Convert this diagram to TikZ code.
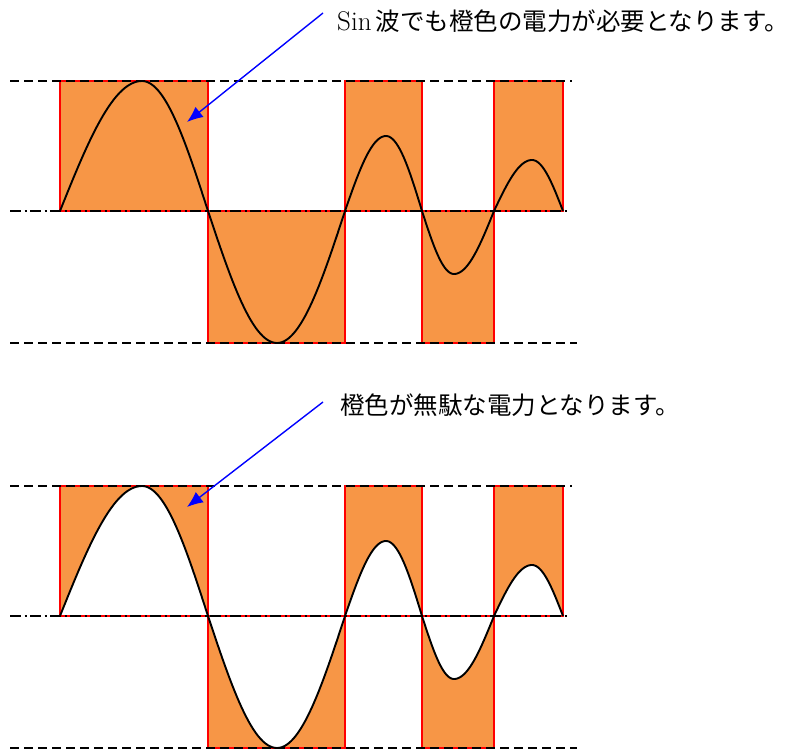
\documentclass[tikz,border=0pt]{standalone}
\usepackage{fontspec}
\newfontfamily\jpfont{Noto Sans CJK JP}
\usetikzlibrary{arrows.meta}
\definecolor{power}{HTML}{F79646}
\definecolor{rimred}{HTML}{FF0000}
\definecolor{arrowblue}{HTML}{0000FF}
% one half wave: start, peak, end, amplitude
\newcommand{\hump}[4]{%
  -- plot[domain=#1:#2,samples=30] (\x,{-(#4)*sin(90*(\x-#1)/(#2-#1))})
  -- plot[domain=#2:#3,samples=30] (\x,{-(#4)*cos(90*(\x-#2)/(#3-#2))})}
\newcommand{\wavepath}{(60,0) \hump{60}{142}{208}{130} \hump{208}{277}{345}{-132}
  \hump{345}{386}{422}{75} \hump{422}{454}{494}{-63} \hump{494}{532}{563}{51}}
\tikzset{
  block/.style={fill=power},
  rim/.style={draw=rimred, line width=1.6pt},
  guide/.style={black, line width=1.6pt, dash pattern=on 9pt off 5pt},
  midline/.style={black, line width=1.7pt, dash pattern=on 11pt off 3.5pt on 2pt off 3.5pt},
  wave/.style={black, line width=1.9pt, line join=round},
  note/.style={font=\fontsize{24.5}{24.5}\selectfont, inner sep=0pt, anchor=west},
  pointer/.style={-{Latex[length=16pt,width=13pt]}, line width=1.4pt, arrowblue},
}
\begin{document}
\begin{tikzpicture}[x=1pt, y=-1pt]
  \useasboundingbox (0,0) rectangle (790,751);
  % upper panel: whole pulse area
  \begin{scope}[shift={(0,211)}]
    \foreach \a/\b/\h in {60/208/-130, 208/345/132, 345/422/-130, 422/494/132, 494/563/-130}
      \draw[block, rim] (\a,0) rectangle (\b,\h);
    \draw[guide] (10,-130) -- (572,-130);
    \draw[midline] (10,0) -- (567,0);
    \draw[guide] (10,132) -- (577,132);
    \draw[wave] \wavepath;
  \end{scope}
  % lower panel: pulse area minus sine area
  \begin{scope}[shift={(0,616)}]
    \foreach \a/\b/\h in {60/208/-130, 208/345/132, 345/422/-130, 422/494/132, 494/563/-130}
      \fill[block] (\a,0) rectangle (\b,\h);
    \fill[white] \wavepath -- cycle;
    \foreach \a/\b/\h in {60/208/-130, 208/345/132, 345/422/-130, 422/494/132, 494/563/-130}
      \draw[rim] (\a,0) rectangle (\b,\h);
    \draw[guide] (10,-130) -- (572,-130);
    \draw[midline] (10,0) -- (567,0);
    \draw[guide] (10,132) -- (577,132);
    \draw[wave] \wavepath;
  \end{scope}
  \node[note] (note1) at (337,21) {{\fontsize{27}{27}\selectfont Sin}\,{\jpfont 波でも橙色の電力が必要となります。}};
  \node[note] (note2) at (340,405) {{\jpfont 橙色が無駄な電力となります。}};
  \coordinate (tip1) at (187,122);
  \coordinate (tip2) at (187,507);
  \draw[pointer] ([shift={(-14pt,8pt)}]note1.west) -- (tip1);
  \draw[pointer] ([shift={(-17pt,3pt)}]note2.west) -- (tip2);
\end{tikzpicture}
\end{document}
